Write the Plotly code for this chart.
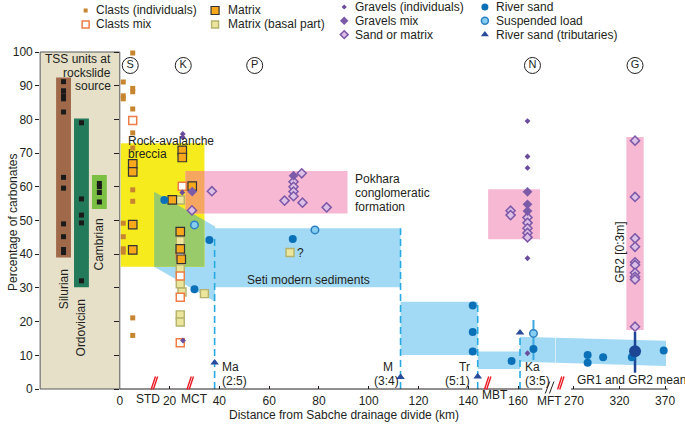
import plotly.graph_objects as go

W, H = 685, 425
FONT = "Liberation Sans, Arial, Helvetica, sans-serif"
INK = "#231f20"
FS = 12
LINE_GAP = 13.8

# ---------------- data ----------------
units = ["Silurian", "Ordovician", "Cambrian"]
unit_low = [39.0, 30.2, 53.4]
unit_high = [92.4, 80.3, 63.5]
unit_label_y = [29.5, 18.1, 43.0]
unit_colors = ["#a0694a", "#237a5b", "#7cc043"]
silurian_pct = [91.2, 88.5, 87.0, 86.1, 82.2, 62.8, 59.6, 49.0, 45.2, 41.4, 40.5]
ordovician_pct = [79.0, 56.4, 51.6, 49.3, 32.1]
cambrian_pct = [61.0, 60.0, 58.3, 55.5]

clast_ind_km = [5.2, 1.4, 1.4, 1.4, 5.2, 5.2, 5.2, 5.2, 5.2, 5.2, 5.2, 1.4, 1.4, 1.4, 1.4, 5.2, 5.2]
clast_ind_pct = [99.7, 91.1, 87.0, 86.1, 89.2, 88.2, 83.1, 76.0, 71.5, 59.1, 55.7, 49.2, 45.2, 41.6, 40.6, 21.1, 15.9]

clast_mix_km = [5.2, 25.1, 24.3, 24.3, 24.3, 24.3]
clast_mix_pct = [79.7, 60.2, 39.8, 33.5, 27.2, 13.7]

matrix_km = [5.2, 5.2, 5.2, 5.2, 25.1, 25.1, 29.1, 21.1, 24.3, 24.3, 24.7]
matrix_pct = [66.8, 64.4, 48.8, 41.3, 70.8, 68.7, 60.2, 56.1, 46.7, 41.6, 38.5]

basal_km = [24.3, 24.3, 24.3, 24.3, 25.0, 34.0, 24.3, 24.3, 68.4]
basal_pct = [56.1, 44.0, 35.7, 31.2, 28.8, 28.3, 22.0, 19.9, 40.5]

gravel_ind_km = [25.3, 25.3, 25.1, 25.4, 163.8, 163.8, 163.8, 163.8, 163.8]
gravel_ind_pct = [75.7, 74.7, 58.3, 14.4, 79.5, 69.0, 65.6, 38.8, 10.6]

gravel_mix_km = [29.1, 69.8, 163.8, 163.8, 163.8]
gravel_mix_pct = [58.6, 63.3, 58.5, 54.8, 52.8]

sand_km = [37.0, 29.0, 73.1, 69.8, 69.8, 69.8, 69.8, 66.2, 73.4, 83.1, 157.0, 157.0,
           163.8, 163.8, 163.8, 163.8, 163.8]
sand_pct = [58.7, 53.0, 64.0, 61.5, 60.0, 58.6, 57.2, 55.9, 55.3, 53.9, 52.9, 51.6,
            50.9, 49.3, 47.7, 46.3, 45.0]
sand_gr2_km = [337.0, 337.0, 337.0, 337.0, 337.0, 337.0, 337.0, 337.0, 337.0, 337.0]
sand_gr2_pct = [73.7, 57.0, 44.7, 42.2, 37.6, 36.8, 34.5, 33.3, 32.5, 18.5]

river_km = [17.9, 36.0, 30.0, 69.5, 141.8, 141.8, 141.8, 157.4, 166.2]
river_pct = [56.1, 44.2, 29.6, 44.5, 24.8, 16.9, 11.1, 8.3, 11.9]
river_far_km = [285.0, 285.0, 302.0, 333.5, 368.5]
river_far_pct = [10.1, 7.8, 9.4, 9.4, 11.4]

susp_km = [30.0, 78.4, 166.2]
susp_pct = [48.7, 47.2, 16.5]
susp_range = [8.6, 20.5]          # Ka vertical range line

trib_km = [38.1, 112.8, 143.8, 160.8]
trib_pct = [7.8, 3.5, 3.7, 16.7]
trib_names = ["Ma", "M", "Tr", "Ka"]
trib_ratios = ["(2:5)", "(3:4)", "(5:1)", "(3:5)"]

gr_mean_km = [337.0]
gr_mean_pct = [11.2]
gr_mean_range = [4.8, 17.0]

# boundary dashed lines (km, top %)
bound_km = [38.1, 112.8, 143.8, 160.8]
bound_top = [44.7, 47.7, 25.9, 15.5]

sites = ["S", "K", "P", "N"]
sites_km = [4.2, 25.5, 54.2, 165.8]
site_g_km = [337.0]
site_pct = 96.0

faults = ["STD", "MCT", "MBT"]
faults_km = [13.9, 28.3, 147.8]
mft_km = 255.5

# regions (km, %)
breccia = [(0.4, 36.3), (34.0, 36.3), (34.0, 72.9), (0.4, 72.9)]
mct_green = [(13.8, 58.5), (34.0, 50.1), (34.0, 36.3), (13.8, 36.3)]
seti_blue = [(13.8, 58.5), (38.3, 48.2), (38.3, 47.7), (112.8, 47.7), (112.8, 30.2),
             (38.3, 30.2), (38.3, 25.9), (13.8, 36.3)]
pokhara = [(26.4, 52.1), (91.5, 52.1), (91.5, 64.7), (26.4, 64.7)]
overlap = [(26.4, 52.1), (34.0, 52.1), (34.0, 64.7), (26.4, 64.7)]
trib_band1 = [(112.8, 10.1), (143.8, 10.1), (143.8, 25.9), (112.8, 25.9)]
trib_band2 = [(143.8, 5.9), (160.8, 5.9), (160.8, 11.1), (143.8, 11.1)]
ka_band_left = (160.8, 8.1, 15.5)     # km, bottom, top
ka_band_right = (371.0, 6.8, 14.3)
nepal_pink = [(148.0, 44.4), (168.8, 44.4), (168.8, 59.3), (148.0, 59.3)]
gr2_pink = [(327.5, 17.5), (346.5, 17.5), (346.5, 74.8), (327.5, 74.8)]

# ---------------- geometry ----------------
def ppx(p):
    return p / W


def ppy(p):
    return 1 - p / H


Y0, YS = 389.0, 3.37
Y_LO, Y_HI = -10.5, 103.0
X1_L, X1_R, CAT0, CAT_S = 37.3, 117.3, 60.8, 18.0
X2_0, X2_S, X2_R = 117.3, 2.5, 555.0
X3_L, X3_R, X3_REF, X3_REFV, X3_S = 555.0, 685.0, 573.5, 270.0, 0.915

x2_range = [0.0, (X2_R - X2_0) / X2_S]
x3_range = [X3_REFV + (X3_L - X3_REF) / X3_S, X3_REFV + (X3_R - X3_REF) / X3_S]
ydom = [ppy(Y0 - Y_LO * YS), ppy(Y0 - Y_HI * YS)]


def x2_from_px(p):
    return (p - X2_0) / X2_S


def x3_from_px(p):
    return X3_REFV + (p - X3_REF) / X3_S


def x2_to_px(k):
    return X2_0 + k * X2_S


def x3_to_px(k):
    return X3_REF + (k - X3_REFV) * X3_S


def y_from_px(p):
    return (Y0 - p) / YS


# ---------------- styles ----------------
ST = {
    "clast_ind": dict(symbol="square", size=5, color="#c6852e", line=dict(width=0)),
    "clast_mix": dict(symbol="square", size=8, color="white", line=dict(color="#ee7c45", width=1.5)),
    "matrix": dict(symbol="square", size=8.5, color="#f9a81b", line=dict(color="#333333", width=1.2)),
    "basal": dict(symbol="square", size=8, color="#ebe69c", line=dict(color="#b4b26c", width=1.4)),
    "gravel_ind": dict(symbol="diamond", size=4.5, color="#6a4c9c", line=dict(width=0)),
    "gravel_mix": dict(symbol="diamond", size=7.5, color="#7b5ba8", line=dict(width=0)),
    "sand": dict(symbol="diamond", size=7, color="#dcc0e6", line=dict(color="#7d58a8", width=1.5)),
    "river": dict(symbol="circle", size=8, color="#0a70b8", line=dict(width=0)),
    "susp": dict(symbol="circle", size=7.5, color="#86cdf0", line=dict(color="#2c80c2", width=1.5)),
    "trib": dict(symbol="triangle-up", size=7.5, color="#2a4a9c", line=dict(width=0)),
}
LEGEND_SIZE = {"clast_ind": 4, "clast_mix": 7, "matrix": 8, "basal": 7, "gravel_ind": 4,
               "gravel_mix": 6.5, "sand": 6, "river": 7, "susp": 7, "trib": 7}

fig = go.Figure()

# ---------------- left panel (TSS units) ----------------
fig.add_trace(go.Bar(x=[0, 1, 2], y=[h - l for h, l in zip(unit_high, unit_low)], base=unit_low,
                     width=0.83, marker=dict(color=unit_colors, line=dict(width=0)),
                     xaxis="x", yaxis="y", hoverinfo="skip"))
for i, vals in enumerate([silurian_pct, ordovician_pct, cambrian_pct]):
    fig.add_trace(go.Scatter(x=[i] * len(vals), y=vals, mode="markers",
                             marker=dict(symbol="square", size=5, color="#1a1a1a"),
                             xaxis="x", yaxis="y", cliponaxis=False, hoverinfo="skip"))

# ---------------- main panel lines ----------------
for k, t in zip(bound_km, bound_top):
    fig.add_trace(go.Scatter(x=[k, k], y=[0, t], mode="lines",
                             line=dict(color="#27aae1", width=1.6, dash="7px,4px"),
                             xaxis="x2", yaxis="y", hoverinfo="skip"))
fig.add_trace(go.Scatter(x=[susp_km[-1], susp_km[-1]], y=susp_range, mode="lines",
                         line=dict(color="#3aa8e0", width=2), xaxis="x2", yaxis="y", hoverinfo="skip"))
fig.add_trace(go.Scatter(x=[gr_mean_km[0], gr_mean_km[0]], y=gr_mean_range, mode="lines",
                         line=dict(color="#1d4694", width=2.5), xaxis="x3", yaxis="y", hoverinfo="skip"))


def pts(xs, ys, style, xa="x2"):
    fig.add_trace(go.Scatter(x=xs, y=ys, mode="markers", marker=ST[style], xaxis=xa, yaxis="y",
                             cliponaxis=False, hoverinfo="skip"))


pts(clast_ind_km, clast_ind_pct, "clast_ind")
pts(basal_km, basal_pct, "basal")
pts(clast_mix_km, clast_mix_pct, "clast_mix")
pts(matrix_km, matrix_pct, "matrix")
pts(sand_km, sand_pct, "sand")
pts(sand_gr2_km, sand_gr2_pct, "sand", "x3")
pts(gravel_mix_km, gravel_mix_pct, "gravel_mix")
pts(gravel_ind_km, gravel_ind_pct, "gravel_ind")
pts(river_km, river_pct, "river")
pts(river_far_km, river_far_pct, "river", "x3")
pts(susp_km, susp_pct, "susp")
pts(trib_km, trib_pct, "trib")
fig.add_trace(go.Scatter(x=gr_mean_km, y=gr_mean_pct, mode="markers",
                         marker=dict(symbol="circle", size=12, color="#1d4694"),
                         xaxis="x3", yaxis="y", cliponaxis=False, hoverinfo="skip"))

# circled site letters
circ = dict(symbol="circle", size=16, color="rgba(0,0,0,0)", line=dict(color=INK, width=1))
fig.add_trace(go.Scatter(x=sites_km, y=[site_pct] * len(sites_km), mode="markers+text", text=sites,
                         textposition="middle center", textfont=dict(size=11, color=INK, family=FONT),
                         marker=circ, xaxis="x2", yaxis="y", cliponaxis=False, hoverinfo="skip"))
fig.add_trace(go.Scatter(x=site_g_km, y=[site_pct], mode="markers+text", text=["G"],
                         textposition="middle center", textfont=dict(size=11, color=INK, family=FONT),
                         marker=circ, xaxis="x3", yaxis="y", cliponaxis=False, hoverinfo="skip"))

# dummy trace for second y axis (ticks at main panel edge)
fig.add_trace(go.Scatter(x=[None], y=[None], xaxis="x2", yaxis="y2", showlegend=False))

# ---------------- legend (own overlay axes in pixel units) ----------------
legend_items = [
    ("Clasts (individuals)", "clast_ind", 83, 10.5, 8.5),
    ("Clasts mix", "clast_mix", 83, 24.5, 8.5),
    ("Matrix", "matrix", 213, 10.5, 11),
    ("Matrix (basal part)", "basal", 213, 24.5, 11),
    ("Gravels (individuals)", "gravel_ind", 342.7, 7.0, 8.5),
    ("Gravels mix", "gravel_mix", 342.7, 20.8, 8.5),
    ("Sand or matrix", "sand", 342.7, 34.6, 8.5),
    ("River sand", "river", 484, 7.0, 9.5),
    ("Suspended load", "susp", 484, 20.8, 9.5),
    ("River sand (tributaries)", "trib", 484, 34.6, 9.5),
]
annotations = []
for label, style, lx, ly, off in legend_items:
    st = dict(ST[style])
    st["size"] = LEGEND_SIZE[style]
    fig.add_trace(go.Scatter(x=[lx], y=[ly], mode="markers", marker=st, xaxis="x9", yaxis="y9",
                             cliponaxis=False, hoverinfo="skip"))
    annotations.append(dict(text=label, x=ppx(lx + off), y=ppy(ly), xref="paper", yref="paper",
                            xanchor="left", yanchor="middle", showarrow=False,
                            font=dict(size=FS, color=INK, family=FONT)))

# ---------------- shapes ----------------
shapes = []


def poly(verts, xref, color):
    path = "M " + " L ".join(f"{x},{y}" for x, y in verts) + " Z"
    shapes.append(dict(type="path", path=path, xref=xref, yref="y", fillcolor=color,
                       line=dict(width=0), layer="below"))


# beige TSS box
shapes.append(dict(type="rect", xref="x domain", yref="y", x0=0, x1=1, y0=0, y1=100,
                   fillcolor="#e6e0c8", line=dict(color="#58595b", width=1), layer="below"))

BLUE = "#a2daf5"
PINK = "#f6b8d3"
poly(seti_blue, "x2", BLUE)
poly(trib_band1, "x2", BLUE)
poly(trib_band2, "x2", BLUE)
# Ka band spans the axis break: split at the junction of x2 and x3
kl, kr = ka_band_left, ka_band_right
pl, pr = x2_to_px(kl[0]), x3_to_px(kr[0])
f = (X2_R - pl) / (pr - pl)
mid_b = kl[1] + (kr[1] - kl[1]) * f
mid_t = kl[2] + (kr[2] - kl[2]) * f
poly([(kl[0], kl[1]), (x2_range[1], mid_b), (x2_range[1], mid_t), (kl[0], kl[2])], "x2", BLUE)
poly([(x3_range[0], mid_b), (kr[0], kr[1]), (kr[0], kr[2]), (x3_range[0], mid_t)], "x3", BLUE)
poly(breccia, "x2", "#f6eb1c")
poly(pokhara, "x2", PINK)
poly(overlap, "x2", "#f5a661")
poly(mct_green, "x2", "#9acb6a")
poly(nepal_pink, "x2", PINK)
poly(gr2_pink, "x3", PINK)

# x axis lines (broken)
shapes.append(dict(type="line", xref="x2", yref="y", x0=0, x1=x2_from_px(541.7), y0=0, y1=0,
                   line=dict(color=INK, width=1)))
shapes.append(dict(type="line", xref="x3", yref="y", x0=x3_from_px(570.5), x1=x3_from_px(667.5), y0=0, y1=0,
                   line=dict(color=INK, width=1)))


def slashes(cpx, xref, conv, color, y_bot, y_top, w_px, gap_px, lw):
    for dx in (-gap_px / 2, gap_px / 2):
        x_b = conv(cpx + dx - w_px / 2)
        x_t = conv(cpx + dx + w_px / 2)
        shapes.append(dict(type="line", xref=xref, yref="y", x0=x_b, x1=x_t, y0=y_bot, y1=y_top,
                           line=dict(color=color, width=lw), layer="above"))


for k in faults_km:
    slashes(x2_to_px(k), "x2", x2_from_px, "#ed1c24", y_from_px(389.5), y_from_px(376.5), 4.3, 2.2, 1.4)
slashes(x3_to_px(mft_km), "x3", x3_from_px, "#ed1c24", y_from_px(389.5), y_from_px(376.5), 4.3, 2.2, 1.4)
slashes(549.0, "x2", x2_from_px, INK, y_from_px(393.5), y_from_px(381.5), 4.5, 4.2, 1.0)

# ---------------- annotations ----------------


def ann(text, x, y, xref="x2", yref="y", xanchor="center", yanchor="middle", angle=0, size=FS):
    annotations.append(dict(text=text, x=x, y=y, xref=xref, yref=yref, xanchor=xanchor,
                            yanchor=yanchor, textangle=angle, showarrow=False,
                            font=dict(size=size, color=INK, family=FONT)))


def ann_lines(lines, x, y_center_px, xref="x2", xanchor="left", xs=None):
    n = len(lines)
    for j, line in enumerate(lines):
        ypx = y_center_px + (j - (n - 1) / 2) * LINE_GAP
        xx = xs[j] if xs else x
        if xref == "paper":
            ann(line, xx, ppy(ypx), xref="paper", yref="paper", xanchor=xanchor)
        else:
            ann(line, xx, y_from_px(ypx), xref=xref, xanchor=xanchor)


ann_lines(["Rock-avalanche", "breccia"], x2_from_px(123.5), 147.5)
ann_lines(["Pokhara", "conglomeratic", "formation"], x2_from_px(352), 192.9)
ann("Seti modern sediments", x2_from_px(243.3), 32.3, xanchor="left")
ann("?", x2_from_px(293.3), 40.3, xanchor="left")
ann_lines([trib_names[0], trib_ratios[0]], x2_from_px(218.0), 374.2)
ann_lines([trib_names[1], trib_ratios[1]], None, 374.2, xanchor="center",
          xs=[x2_from_px(386.7), x2_from_px(385.0)])
ann_lines([trib_names[2], trib_ratios[2]], x2_from_px(471.5), 374.2, xanchor="right")
ann_lines([trib_names[3], trib_ratios[3]], x2_from_px(522.0), 374.2)
ann("GR1 and GR2 mean", x3_from_px(575), y_from_px(380), xref="x3", xanchor="left")
ann("GR2 [0:3m]", x3_from_px(619.5), y_from_px(252), xref="x3", angle=-90)
ann(faults[0], x2_from_px(146), y_from_px(399))
ann(faults[1], x2_from_px(192.5), y_from_px(399))
ann(faults[2], x2_from_px(494), y_from_px(395))
ann("MFT", x2_from_px(549.0), y_from_px(401))
for i, u in enumerate(units):
    ann(u, i, unit_label_y[i], xref="x", angle=-90)
ann_lines(["TSS units at", "rockslide", "source"], ppx(110), 72.6, xref="paper", xanchor="right")
ann("Percentage of carbonates", ppx(10), ppy(222), xref="paper", yref="paper", angle=-90)
ann("Distance from Sabche drainage divide (km)", ppx(343), ppy(415), xref="paper", yref="paper")

# ---------------- layout ----------------
tickfont = dict(size=FS, color=INK, family=FONT)
fig.update_layout(
    width=W, height=H, margin=dict(l=0, r=0, t=0, b=0),
    paper_bgcolor="white", plot_bgcolor="rgba(0,0,0,0)", showlegend=False,
    font=dict(family=FONT, size=FS, color=INK),
    xaxis=dict(domain=[ppx(X1_L), ppx(X1_R)], range=[(X1_L - CAT0) / CAT_S, (X1_R - CAT0) / CAT_S],
               showticklabels=False, ticks="", showgrid=False, zeroline=False, showline=False,
               anchor="y", fixedrange=True),
    yaxis=dict(domain=ydom, range=[Y_LO, Y_HI], tickvals=list(range(0, 101, 10)), ticks="outside",
               ticklen=4, tickcolor=INK, tickwidth=1, tickfont=tickfont, showgrid=False,
               zeroline=False, showline=False, anchor="x", fixedrange=True),
    yaxis2=dict(domain=ydom, range=[Y_LO, Y_HI], overlaying="y", anchor="x2", side="left",
                tickvals=list(range(0, 101, 10)), ticks="outside", ticklen=5, tickcolor=INK,
                showticklabels=False, showgrid=False, zeroline=False, showline=False, fixedrange=True),
    xaxis2=dict(domain=[ppx(X2_0), ppx(X2_R)], range=x2_range, anchor="free", position=ppy(Y0),
                tickvals=list(range(0, 161, 20)), ticks="inside", ticklen=3, tickcolor=INK,
                ticklabelstandoff=3,
                tickfont=tickfont, showgrid=False, zeroline=False, showline=False, fixedrange=True),
    xaxis3=dict(domain=[ppx(X3_L), ppx(X3_R)], range=x3_range, anchor="free", position=ppy(Y0),
                tickvals=[270, 320, 370], ticks="inside", ticklen=3, tickcolor=INK,
                ticklabelstandoff=3,
                tickfont=tickfont, showgrid=False, zeroline=False, showline=False, fixedrange=True),
    xaxis9=dict(domain=[0, 1], range=[0, W], visible=False, anchor="y9", fixedrange=True),
    yaxis9=dict(domain=[0, 1], range=[H, 0], visible=False, anchor="x9", fixedrange=True),
    shapes=shapes, annotations=annotations,
)

fig.write_html("out.html", config={"displayModeBar": False},
               post_script="document.body.style.margin='0';document.body.style.overflow='hidden';")
